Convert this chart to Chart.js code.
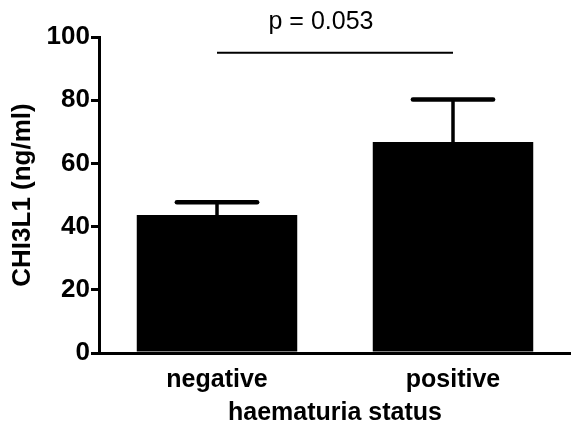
<!DOCTYPE html>
<html>
<head>
<meta charset="utf-8">
<script src="https://cdn.jsdelivr.net/npm/chart.js@4.4.1/dist/chart.umd.min.js"></script>
<style>
  html, body { margin: 0; padding: 0; background: #fff; }
  #wrap { width: 571px; height: 438px; }
</style>
</head>
<body>
<div id="wrap"><canvas id="chart" width="571" height="438"></canvas></div>
<script>
const categories = ["negative", "positive"];
const means = [43.7, 66.8];
const errUpper = [47.7, 80.2];
const yTicks = [0, 20, 40, 60, 80, 100];
const sigLevel = 95;
const sigLabel = "p = 0.053";

const FONT = "'Liberation Sans', Arial, Helvetica, sans-serif";

// error bars (upper only) + significance bracket
const annotations = {
  id: "annotations",
  afterDatasetsDraw(chart) {
    const ctx = chart.ctx;
    const x = chart.scales.x;
    const y = chart.scales.y;
    const meta = chart.getDatasetMeta(0);
    ctx.save();
    ctx.strokeStyle = "#000";
    meta.data.forEach((bar, i) => {
      const half = bar.width / 4;
      const top = y.getPixelForValue(errUpper[i]);
      const base = y.getPixelForValue(means[i]);
      ctx.lineCap = "butt";
      ctx.lineWidth = 3.5;
      ctx.beginPath();
      ctx.moveTo(bar.x, base + 2);
      ctx.lineTo(bar.x, top);
      ctx.stroke();
      ctx.lineCap = "round";
      ctx.lineWidth = 4.5;
      ctx.beginPath();
      ctx.moveTo(bar.x - half, top);
      ctx.lineTo(bar.x + half, top);
      ctx.stroke();
    });

    const x0 = x.getPixelForValue(0);
    const x1 = x.getPixelForValue(1);
    const ys = y.getPixelForValue(sigLevel);
    ctx.lineCap = "butt";
    ctx.lineWidth = 2;
    ctx.beginPath();
    ctx.moveTo(x0, ys);
    ctx.lineTo(x1, ys);
    ctx.stroke();

    ctx.fillStyle = "#000";
    ctx.font = "25px " + FONT;
    ctx.textAlign = "center";
    ctx.textBaseline = "alphabetic";
    ctx.fillText(sigLabel, (x0 + x1) / 2 - 14, 29);
    ctx.restore();
  }
};

const ctx = document.getElementById("chart").getContext("2d");
new Chart(ctx, {
  type: "bar",
  data: {
    labels: categories,
    datasets: [{
      data: means,
      backgroundColor: "#000",
      borderWidth: 0,
      categoryPercentage: 1.0,
      barPercentage: 0.68
    }]
  },
  options: {
    responsive: false,
    animation: false,
    layout: { padding: { top: 37, right: 0, left: 0, bottom: 0 } },
    plugins: {
      legend: { display: false },
      tooltip: { enabled: false }
    },
    scales: {
      x: {
        grid: { display: false, drawTicks: false },
        border: { display: true, color: "#000", width: 3 },
        ticks: {
          color: "#000",
          padding: 12,
          font: { family: FONT, size: 25, weight: "bold" }
        },
        title: {
          display: true,
          text: "haematuria status",
          color: "#000",
          padding: { top: 0, bottom: 10 },
          font: { family: FONT, size: 25, weight: "bold" }
        },
        afterFit(scale) { scale.height = 85; }
      },
      y: {
        min: 0,
        max: 100,
        afterBuildTicks(scale) {
          scale.ticks = yTicks.map(v => ({ value: v }));
        },
        grid: {
          drawOnChartArea: false,
          drawTicks: true,
          tickLength: 8,
          color: "#000",
          lineWidth: 3
        },
        border: { display: true, color: "#000", width: 3 },
        ticks: {
          color: "#000",
          padding: 1,
          font: { family: FONT, size: 26, weight: "bold" }
        },
        title: {
          display: true,
          text: "CHI3L1 (ng/ml)",
          color: "#000",
          padding: { top: 7, bottom: 0 },
          font: { family: FONT, size: 26, weight: "bold" }
        },
        afterFit(scale) { scale.width = 99; }
      }
    }
  },
  plugins: [annotations]
});
</script>
</body>
</html>
